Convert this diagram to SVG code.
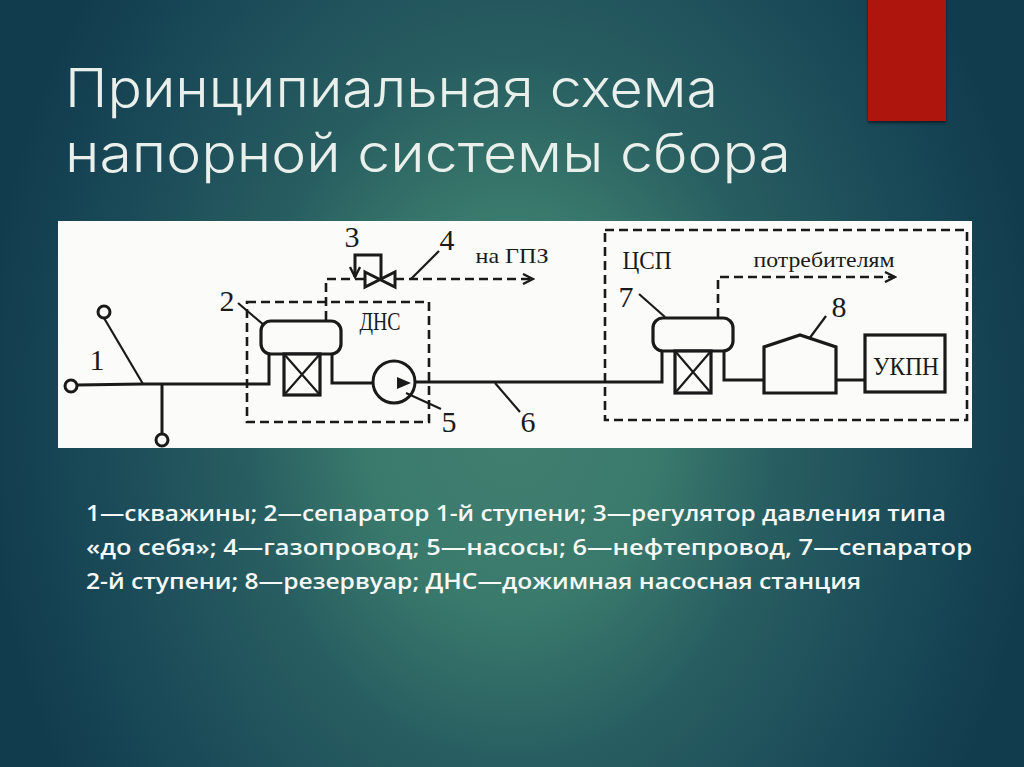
<svg xmlns="http://www.w3.org/2000/svg" width="1024" height="767" viewBox="0 0 1024 767">
<defs>
<radialGradient id="bg" gradientUnits="userSpaceOnUse" cx="0" cy="0" r="1" gradientTransform="translate(512 410) scale(530 700)">
<stop offset="0" stop-color="#417f70"/>
<stop offset="0.28" stop-color="#3a7a6c"/>
<stop offset="0.5" stop-color="#285e61"/>
<stop offset="0.78" stop-color="#1a4a58"/>
<stop offset="1" stop-color="#113c4e"/>
</radialGradient>
<filter id="shadow" x="-10%" y="-10%" width="120%" height="120%"><feDropShadow dx="0" dy="2" stdDeviation="1.5" flood-color="#000" flood-opacity="0.55"/></filter>
<marker id="open" markerUnits="userSpaceOnUse" markerWidth="14" markerHeight="12" refX="12" refY="6" orient="auto"><path d="M2 1 L12 6 L2 11" fill="none" stroke="#1a1a1a" stroke-width="2.4"/></marker>
</defs>
<style>
.title{font-family:"Inter","Open Sans",sans-serif;font-weight:300;font-size:53px;fill:#e9efeb}
.body{font-family:"Open Sans","Noto Sans",sans-serif;font-weight:600;font-size:22px;fill:#f6f8f6}
.lab{font-family:"Liberation Serif",serif;fill:#1a1a1a;text-anchor:middle}
.n{font-size:30px}
.t{font-size:22px}
.c{font-size:25px}
.w{fill:none;stroke:#1a1a1a;stroke-width:3}
.l{fill:none;stroke:#1a1a1a;stroke-width:2.2}
.d{fill:none;stroke:#1a1a1a;stroke-width:2.6;stroke-dasharray:9 5}
.s{fill:#fbfbf9;stroke:#1a1a1a;stroke-width:3.2}
</style>
<rect width="1024" height="767" fill="url(#bg)"/>
<rect id="accent" x="868" y="-2" width="78" height="123" fill="#ae1811" filter="url(#shadow)"/>
<text class="title" x="65" y="107" textLength="653" lengthAdjust="spacingAndGlyphs">Принципиальная схема</text>
<text class="title" x="65" y="172" textLength="726" lengthAdjust="spacingAndGlyphs">напорной системы сбора</text>
<rect id="panel" x="58" y="221" width="914" height="227" fill="#fbfbf9"/>
<g id="connectors">
<path class="l" d="M104 318 L143 384"/>
<path class="w" d="M77 385 L143 384 L269 384 L269 354"/>
<path class="w" d="M162 384 V434"/>
<path class="w" d="M332 354 V383 H373"/>
<path class="w" d="M415 382 H662 V351"/>
<path class="w" d="M724 351 V380 H764"/>
<path class="w" d="M836 380 H866"/>
<path class="l" d="M406 393 L441 409"/>
<path class="l" d="M495 383 L520 412"/>
<path class="l" d="M238 303 L265 326"/>
<path class="l" d="M411 279 L439 251"/>
<path class="l" d="M639 294 L665 317"/>
<path class="l" d="M806 343 L826 316"/>
<path class="d" d="M326 320 V279 H365"/>
<path class="d" d="M395 279 H533" marker-end="url(#open)"/>
<path class="w" d="M381 279 V255 H355 V277" marker-end="url(#open)"/>
<path class="d" d="M718 317 V277 H895" marker-end="url(#open)"/>
</g>
<g id="dns-box"><rect class="d" x="247" y="302" width="182" height="120"/><text class="lab c" x="380" y="330" textLength="41" lengthAdjust="spacingAndGlyphs">ДНС</text></g>
<g id="csp-box"><rect class="d" x="605" y="230" width="362" height="190"/><text class="lab c" x="647" y="269" textLength="49" lengthAdjust="spacingAndGlyphs">ЦСП</text></g>
<g id="well-1"><circle class="w" cx="104" cy="312" r="6" fill="#fbfbf9"/></g>
<g id="well-2"><circle class="w" cx="71" cy="386" r="6" fill="#fbfbf9"/></g>
<g id="well-3"><circle class="w" cx="162" cy="440" r="6" fill="#fbfbf9"/></g>
<g id="separator-2"><rect class="s" x="261" y="321" width="80" height="33" rx="10"/><rect class="s" x="284" y="354" width="36" height="41"/><path class="l" d="M284 354 L320 395 M320 354 L284 395"/></g>
<g id="pump-5"><circle class="w" cx="394" cy="382" r="21" fill="#fbfbf9"/><path d="M397 377 L411 383 L397 389 Z" fill="#1a1a1a"/></g>
<g id="valve-3"><path class="w" d="M365 272 L395 287 V272 L365 287 Z"/></g>
<g id="separator-7"><rect class="s" x="653" y="318" width="80" height="33" rx="10"/><rect class="s" x="675" y="351" width="36" height="42"/><path class="l" d="M675 351 L711 393 M711 351 L675 393"/></g>
<g id="tank-8"><path class="s" d="M764 393 V347 L800 335 L836 347 V393 Z"/></g>
<g id="ukpn"><rect class="s" x="865" y="335" width="80" height="57"/><text class="lab c" x="906" y="375" textLength="66" lengthAdjust="spacingAndGlyphs">УКПН</text></g>
<g id="labels">
<text class="lab n" x="97" y="370">1</text>
<text class="lab n" x="227" y="311">2</text>
<text class="lab n" x="352" y="247">3</text>
<text class="lab n" x="447" y="250">4</text>
<text class="lab n" x="449" y="432">5</text>
<text class="lab n" x="528" y="432">6</text>
<text class="lab n" x="626" y="307">7</text>
<text class="lab n" x="839" y="317">8</text>
<text class="lab t" x="512" y="263" textLength="73" lengthAdjust="spacingAndGlyphs">на ГПЗ</text>
<text class="lab t" x="824" y="267" textLength="141" lengthAdjust="spacingAndGlyphs">потребителям</text>
</g>
<g id="legend">
<text class="body" x="86" y="521" textLength="860" lengthAdjust="spacingAndGlyphs">1—скважины; 2—сепаратор 1-й ступени; 3—регулятор давления типа</text>
<text class="body" x="86" y="555" textLength="886" lengthAdjust="spacingAndGlyphs">«до себя»; 4—газопровод; 5—насосы; 6—нефтепровод, 7—сепаратор</text>
<text class="body" x="86" y="589" textLength="775" lengthAdjust="spacingAndGlyphs">2-й ступени; 8—резервуар; ДНС—дожимная насосная станция</text>
</g>
</svg>
